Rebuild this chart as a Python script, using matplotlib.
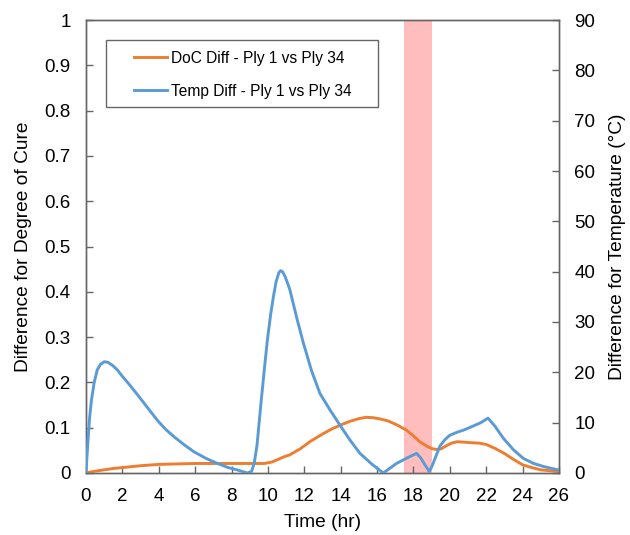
import matplotlib
matplotlib.use("Agg")
import matplotlib.pyplot as plt
from matplotlib.patches import Rectangle

plt.rcParams['font.family'] = ['Liberation Sans', 'DejaVu Sans']

# Degree of cure difference (left axis)
doc_time = [0, 0.5, 1, 1.5, 2, 3, 4, 5, 6, 7, 8, 9, 9.8, 10.2, 10.5, 10.9, 11.2, 11.8,
            12.3, 13.0, 13.5, 14.0, 14.5, 15.0, 15.4, 15.8, 16.2, 16.6, 17.1, 17.6,
            18.0, 18.35, 18.7, 19.0, 19.25, 19.5, 19.8, 20.1, 20.4, 20.8, 21.1, 21.6,
            22.0, 22.5, 23.0, 23.5, 24.0, 24.5, 25.0, 25.5, 26.0]
doc_diff = [0, 0.004, 0.007, 0.010, 0.012, 0.016, 0.019, 0.020, 0.021, 0.021, 0.021,
            0.021, 0.021, 0.024, 0.029, 0.036, 0.040, 0.054, 0.069, 0.086, 0.097,
            0.106, 0.114, 0.120, 0.123, 0.122, 0.119, 0.115, 0.106, 0.095, 0.082,
            0.069, 0.060, 0.054, 0.052, 0.053, 0.060, 0.066, 0.069, 0.068, 0.067,
            0.066, 0.063, 0.054, 0.043, 0.030, 0.018, 0.012, 0.007, 0.005, 0.003]

# Temperature difference (right axis, °C)
temp_time = [0, 0.05, 0.12, 0.2, 0.3, 0.45, 0.62, 0.8, 1.0, 1.2, 1.45, 1.72, 2.0, 2.4,
             2.82, 3.4, 3.96, 4.4, 4.84, 5.4, 5.94, 6.6, 7.22, 7.8, 8.32, 8.87, 9.1,
             9.25, 9.4, 9.6, 9.8, 9.97, 10.15, 10.3, 10.45, 10.6, 10.7, 10.8, 10.95,
             11.2, 11.6, 11.95, 12.4, 12.86, 13.4, 13.96, 14.5, 15.06, 15.7, 16.34,
             17.07, 17.6, 18.17, 18.4, 18.6, 18.87, 19.0, 19.2, 19.46, 19.75, 20.0,
             20.4, 20.74, 21.2, 21.7, 22.1, 22.5, 22.94, 23.5, 24.04, 24.6, 25.14,
             25.6, 25.97]
temp_diff = [0, 3, 7, 11, 14.5, 18, 20.5, 21.6, 22.1, 22.0, 21.4, 20.5, 19.2, 17.5,
             15.6, 12.9, 10.3, 8.6, 7.2, 5.6, 4.2, 2.9, 1.9, 1.1, 0.6, 0, 0.3, 2, 5.5,
             13.2, 20.5, 26.4, 31.5, 35, 38, 39.8, 40.2, 40.0, 39.0, 36.5, 30.6, 25.8,
             20.3, 15.8, 12.6, 9.5, 6.6, 3.9, 1.8, 0, 1.9, 2.9, 3.9, 3.0, 1.8, 0.3,
             1.2, 3.0, 5.4, 6.7, 7.5, 8.1, 8.5, 9.2, 10.0, 10.9, 9.2, 6.9, 4.6, 2.9,
             1.9, 1.3, 0.9, 0.6]

shade_start, shade_end = 17.5, 19.0

orange = '#ED7D31'
blue = '#5B9BD5'
spine_col = '#666666'
fs = 13.5

fig = plt.figure(figsize=(6.3, 5.35), dpi=100)
ax = fig.add_axes([0.1365, 0.1159, 0.7508, 0.8467])
ax2 = ax.twinx()

ax.axvspan(shade_start, shade_end, color='#FFBDBD', lw=0, zorder=0)
l1, = ax.plot(doc_time, doc_diff, color=orange, lw=2.1, label='DoC Diff - Ply 1 vs Ply 34',
              zorder=3, solid_joinstyle='round')
l2, = ax2.plot(temp_time, temp_diff, color=blue, lw=2.1, label='Temp Diff - Ply 1 vs Ply 34',
               zorder=3, solid_joinstyle='round')

ax.set_xlim(0, 26)
ax.set_ylim(0, 1)
ax2.set_ylim(0, 90)
ax.set_xticks(range(0, 27, 2))
ax.set_yticks([i / 10 for i in range(11)])
ax.set_yticklabels(['0'] + [f'{i/10:.1f}' for i in range(1, 10)] + ['1'])
ax2.set_yticks(range(0, 91, 10))

for a in (ax, ax2):
    for s in a.spines.values():
        s.set_color(spine_col)
        s.set_linewidth(1.0)
    a.tick_params(direction='in', length=5, width=1, color=spine_col, labelsize=fs,
                  labelcolor='black', pad=11)

ax.set_xlabel('Time (hr)', fontsize=13.8, labelpad=6)
ax.set_ylabel('Difference for Degree of Cure', fontsize=13.8, labelpad=9)
ax2.set_ylabel('Difference for Temperature (°C)', fontsize=13.8, labelpad=10)

# legend frame
frame = Rectangle((106 / 630, 1 - 107 / 535), 272 / 630, 67 / 535,
                  transform=fig.transFigure, facecolor='white',
                  edgecolor=spine_col, lw=1.0, zorder=5, clip_on=False)
ax2.add_patch(frame)
leg = ax2.legend(handles=[l1, l2], loc='upper left',
                 bbox_to_anchor=(126 / 630, 1 - 43 / 535), bbox_transform=fig.transFigure,
                 fontsize=11.2, frameon=False, borderpad=0, labelspacing=1.15,
                 handlelength=2.15, handletextpad=0.25)
leg.set_zorder(6)

fig.savefig('out.png', dpi=100)
